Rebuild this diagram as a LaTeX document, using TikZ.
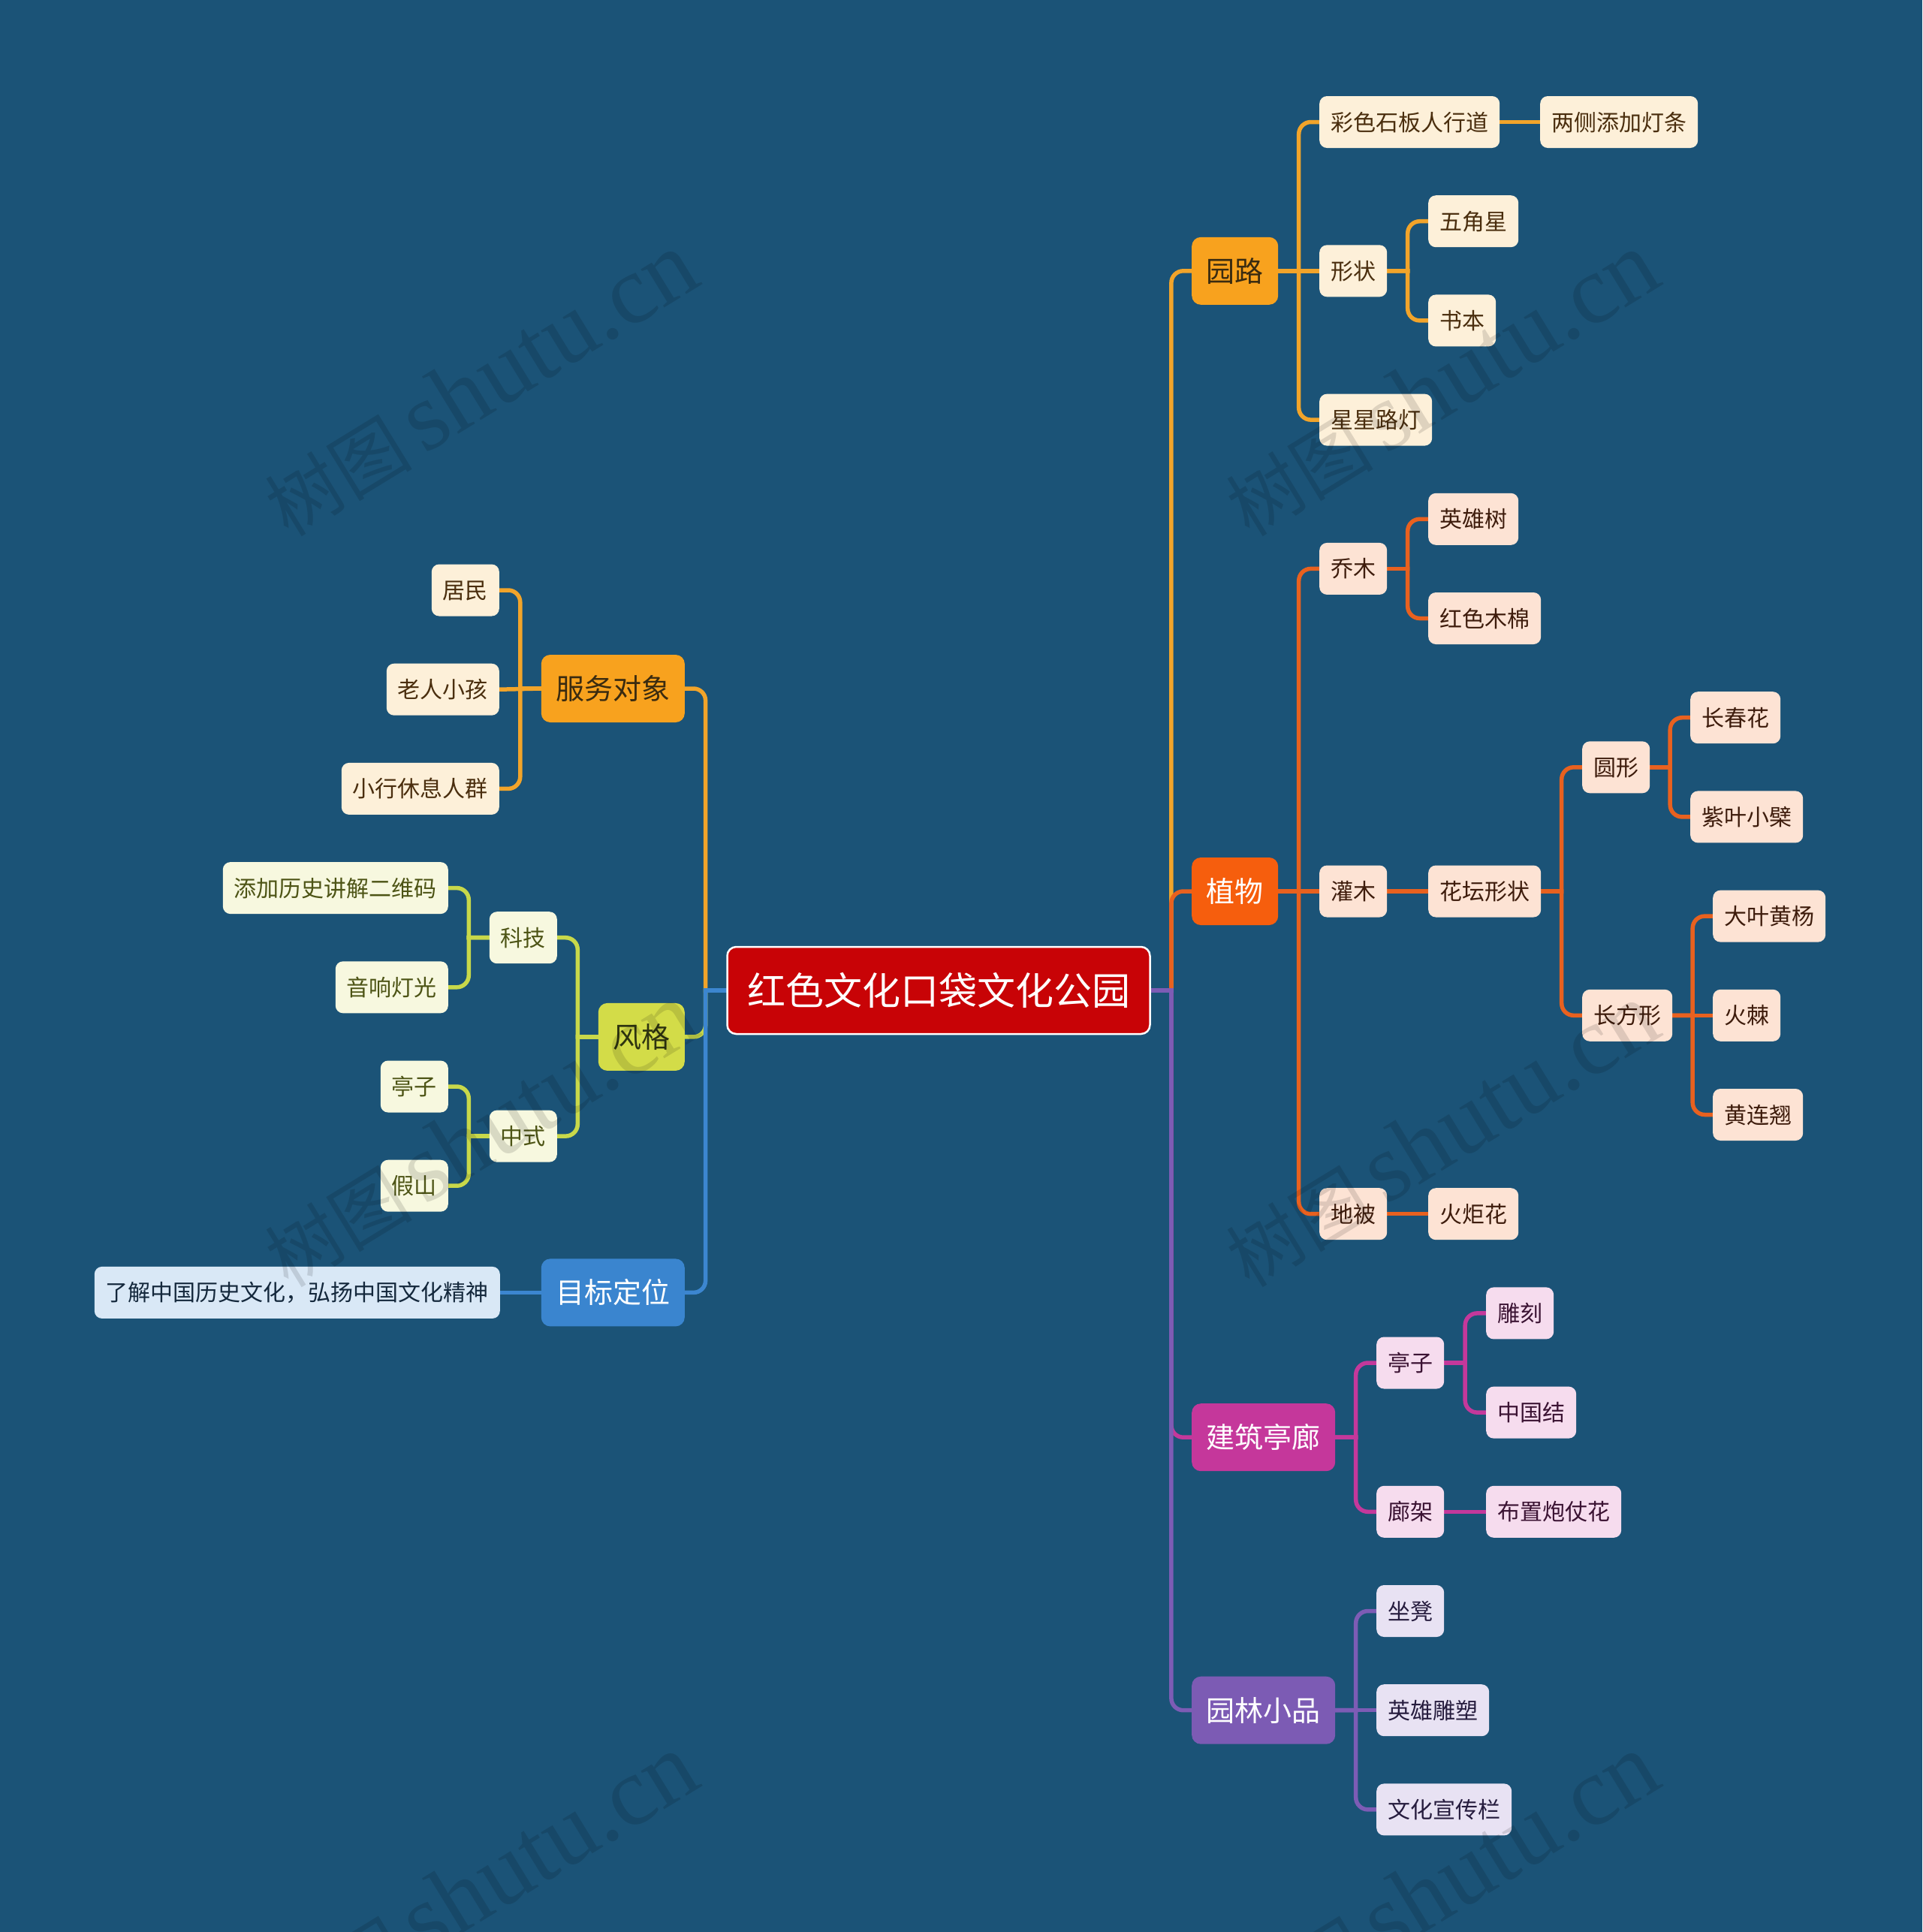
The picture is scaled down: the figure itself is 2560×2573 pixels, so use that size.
\documentclass[tikz,border=0pt]{standalone}
\usepackage{fontspec}
\setmainfont{Noto Sans CJK SC}
\newfontfamily\wmfont{Liberation Serif}
\usetikzlibrary{calc}
\pgfdeclarelayer{background}
\pgfsetlayers{background,main}

\definecolor{bgc}{HTML}{1B5377}
\definecolor{corange}{HTML}{F2A42A}
\definecolor{ofill}{HTML}{F8A21E}
\definecolor{olf}{HTML}{FDF0D9}
\definecolor{olt}{HTML}{4A2E0E}
\definecolor{otx}{HTML}{3A2B10}
\definecolor{cyg}{HTML}{C8D84A}
\definecolor{ygfill}{HTML}{D3DC48}
\definecolor{yglf}{HTML}{F7F8DF}
\definecolor{yglt}{HTML}{4D5415}
\definecolor{ygtx}{HTML}{2E3410}
\definecolor{cblue}{HTML}{3C86D0}
\definecolor{bluefill}{HTML}{3A85CF}
\definecolor{bluelf}{HTML}{D9E8F6}
\definecolor{bluelt}{HTML}{14283C}
\definecolor{cplant}{HTML}{E8611F}
\definecolor{plantfill}{HTML}{F65E0D}
\definecolor{plantlf}{HTML}{FDE3D4}
\definecolor{plantlt}{HTML}{3E1C0C}
\definecolor{cmag}{HTML}{C4389B}
\definecolor{magfill}{HTML}{C5379B}
\definecolor{maglf}{HTML}{F6DCEE}
\definecolor{maglt}{HTML}{3B1333}
\definecolor{cpur}{HTML}{7D5CB5}
\definecolor{purfill}{HTML}{7C5BB4}
\definecolor{purlf}{HTML}{E8E2F3}
\definecolor{purlt}{HTML}{261C3E}
\definecolor{rootred}{HTML}{C80306}

\tikzset{
  leafbase/.style={rounded corners=10pt, minimum height=69pt, inner xsep=15pt, inner ysep=0pt,
    text height=25pt, text depth=2pt, font=\fontsize{30}{36}\selectfont},
  oleaf/.style={leafbase, fill=olf, text=olt},
  ygleaf/.style={leafbase, fill=yglf, text=yglt},
  blueleaf/.style={leafbase, fill=bluelf, text=bluelt},
  pleaf/.style={leafbase, fill=plantlf, text=plantlt},
  mleaf/.style={leafbase, fill=maglf, text=maglt},
  uleaf/.style={leafbase, fill=purlf, text=purlt},
  lvlbase/.style={rounded corners=12pt, minimum height=90pt, inner xsep=19.5pt, inner ysep=0pt,
    text height=31.5pt, text depth=2.7pt, font=\fontsize{38}{46}\selectfont},
  olvl/.style={lvlbase, fill=ofill, text=otx},
  yglvl/.style={lvlbase, fill=ygfill, text=ygtx},
  bluelvl/.style={lvlbase, fill=bluefill, text=white},
  plvl/.style={lvlbase, fill=plantfill, text=white},
  mlvl/.style={lvlbase, fill=magfill, text=white},
  ulvl/.style={lvlbase, fill=purfill, text=white},
  rootbox/.style={rounded corners=12pt, minimum height=116pt, inner xsep=26.5pt, inner ysep=0pt,
    text height=42.3pt, text depth=3.6pt, font=\fontsize{51}{60}\selectfont,
    fill=rootred, draw=white, line width=2.5pt, text=white},
  link/.style={line width=5.5pt, line cap=rect},
  wm/.style={inner sep=0pt, text=black, opacity=0.12, text opacity=0.12}
}

\newcommand\rlink[3]{%
  \draw[link,#1] (#2.east) -- ($(#2.east)!.5!(#2.east -| #3.west)$) coordinate (mm);
  \draw[link,#1,rounded corners=16pt] (mm) |- (#3.west);}
\newcommand\llink[3]{%
  \draw[link,#1] (#2.west) -- ($(#2.west)!.5!(#2.west -| #3.east)$) coordinate (mm);
  \draw[link,#1,rounded corners=16pt] (mm) |- (#3.east);}
\newcommand\rslink[3]{\draw[link,#1] (#2.east) -- (#3.west);}
\newcommand\lslink[3]{\draw[link,#1] (#2.west) -- (#3.east);}

\begin{document}
\begin{tikzpicture}[x=1pt,y=-1pt]
\begin{pgfonlayer}{background}
\fill[bgc] (0,0) rectangle (2560,2573);
\end{pgfonlayer}
\useasboundingbox (0,0) rectangle (2560,2573);

% root
\node[rootbox] (root) at (1250,1319) {红色文化口袋文化公园};

% left side
\node[olvl, anchor=east] (fuwu) at (912,917) {服务对象};
\node[oleaf, anchor=east] (jumin) at (665,786) {居民};
\node[oleaf, anchor=east] (laoren) at (665,918.2) {老人小孩};
\node[oleaf, anchor=east] (xiaoxing) at (665,1050.4) {小行休息人群};

\node[yglvl, anchor=east] (fengge) at (912,1380.9) {风格};
\node[ygleaf, anchor=east] (keji) at (742,1248.7) {科技};
\node[ygleaf, anchor=east] (tianjia) at (597,1182.6) {添加历史讲解二维码};
\node[ygleaf, anchor=east] (yinxiang) at (597,1314.8) {音响灯光};
\node[ygleaf, anchor=east] (zhongshi) at (742,1513.1) {中式};
\node[ygleaf, anchor=east] (tingzil) at (597,1447) {亭子};
\node[ygleaf, anchor=east] (jiashan) at (597,1579.2) {假山};

\node[bluelvl, anchor=east] (mubiao) at (912,1721.4) {目标定位};
\node[blueleaf, anchor=east] (liaojie) at (666,1721.4) {了解中国历史文化，弘扬中国文化精神};

% right side
\node[olvl, anchor=west] (yuanlu) at (1587,360.8) {园路};
\node[oleaf, anchor=west] (caise) at (1757,162.5) {彩色石板人行道};
\node[oleaf, anchor=west] (liangce) at (2051,162.5) {两侧添加灯条};
\node[oleaf, anchor=west] (xingzhuang) at (1757,360.8) {形状};
\node[oleaf, anchor=west] (wujiao) at (1902,294.7) {五角星};
\node[oleaf, anchor=west] (shuben) at (1902,426.9) {书本};
\node[oleaf, anchor=west] (xingxing) at (1757,559.1) {星星路灯};

\node[plvl, anchor=west] (zhiwu) at (1587,1187) {植物};
\node[pleaf, anchor=west] (qiaomu) at (1757,757.4) {乔木};
\node[pleaf, anchor=west] (yxshu) at (1902,691.3) {英雄树};
\node[pleaf, anchor=west] (hongse) at (1902,823.5) {红色木棉};
\node[pleaf, anchor=west] (guanmu) at (1757,1187) {灌木};
\node[pleaf, anchor=west] (huatan) at (1902,1187) {花坛形状};
\node[pleaf, anchor=west] (yuanxing) at (2107,1021.8) {圆形};
\node[pleaf, anchor=west] (changchun) at (2251,955.7) {长春花};
\node[pleaf, anchor=west] (ziye) at (2251,1087.9) {紫叶小檗};
\node[pleaf, anchor=west] (changfang) at (2107,1352.3) {长方形};
\node[pleaf, anchor=west] (daye) at (2281,1220.1) {大叶黄杨};
\node[pleaf, anchor=west] (huoji) at (2281,1352.3) {火棘};
\node[pleaf, anchor=west] (huanglian) at (2281,1484.5) {黄连翘};
\node[pleaf, anchor=west] (dibei) at (1757,1616.7) {地被};
\node[pleaf, anchor=west] (huoju) at (1902,1616.7) {火炬花};

\node[mlvl, anchor=west] (jianzhu) at (1587,1914.2) {建筑亭廊};
\node[mleaf, anchor=west] (tingzi) at (1833,1815) {亭子};
\node[mleaf, anchor=west] (diaoke) at (1979,1748.9) {雕刻};
\node[mleaf, anchor=west] (zgj) at (1979,1881.1) {中国结};
\node[mleaf, anchor=west] (langjia) at (1833,2013.3) {廊架};
\node[mleaf, anchor=west] (buzhi) at (1979,2013.3) {布置炮仗花};

\node[ulvl, anchor=west] (yuanlin) at (1587,2277.7) {园林小品};
\node[uleaf, anchor=west] (zuodeng) at (1833,2145.5) {坐凳};
\node[uleaf, anchor=west] (yxdiaosu) at (1833,2277.7) {英雄雕塑};
\node[uleaf, anchor=west] (wenhua) at (1833,2409.9) {文化宣传栏};

% connectors
\begin{pgfonlayer}{background}
\llink{corange}{root}{fuwu}
\llink{cyg}{root}{fengge}
\llink{cblue}{root}{mubiao}
\llink{corange}{fuwu}{jumin}
\lslink{corange}{fuwu}{laoren}
\llink{corange}{fuwu}{xiaoxing}
\llink{cyg}{fengge}{keji}
\llink{cyg}{fengge}{zhongshi}
\llink{cyg}{keji}{tianjia}
\llink{cyg}{keji}{yinxiang}
\llink{cyg}{zhongshi}{tingzil}
\llink{cyg}{zhongshi}{jiashan}
\lslink{cblue}{mubiao}{liaojie}

\rlink{corange}{root}{yuanlu}
\rlink{cplant}{root}{zhiwu}
\rlink{cmag}{root}{jianzhu}
\rlink{cpur}{root}{yuanlin}
\rlink{corange}{yuanlu}{caise}
\rslink{corange}{yuanlu}{xingzhuang}
\rlink{corange}{yuanlu}{xingxing}
\rslink{corange}{caise}{liangce}
\rlink{corange}{xingzhuang}{wujiao}
\rlink{corange}{xingzhuang}{shuben}
\rlink{cplant}{zhiwu}{qiaomu}
\rslink{cplant}{zhiwu}{guanmu}
\rlink{cplant}{zhiwu}{dibei}
\rlink{cplant}{qiaomu}{yxshu}
\rlink{cplant}{qiaomu}{hongse}
\rslink{cplant}{guanmu}{huatan}
\rlink{cplant}{huatan}{yuanxing}
\rlink{cplant}{huatan}{changfang}
\rlink{cplant}{yuanxing}{changchun}
\rlink{cplant}{yuanxing}{ziye}
\rlink{cplant}{changfang}{daye}
\rslink{cplant}{changfang}{huoji}
\rlink{cplant}{changfang}{huanglian}
\rslink{cplant}{dibei}{huoju}
\rlink{cmag}{jianzhu}{tingzi}
\rlink{cmag}{jianzhu}{langjia}
\rlink{cmag}{tingzi}{diaoke}
\rlink{cmag}{tingzi}{zgj}
\rslink{cmag}{langjia}{buzhi}
\rlink{cpur}{yuanlin}{zuodeng}
\rslink{cpur}{yuanlin}{yxdiaosu}
\rlink{cpur}{yuanlin}{wenhua}
\end{pgfonlayer}

% watermarks
\foreach \wx/\wy [count=\i] in {640/512, 1920/512, 640/1512, 1920/1512, 640/2512, 1920/2512}{
  \node[wm, rotate=31.5] (wm\i) at (\wx,\wy) {{\fontsize{98}{110}\selectfont 树图}\hspace{16pt}{\wmfont\fontsize{130}{140}\selectfont shutu.cn}};
}
\end{tikzpicture}
\end{document}
